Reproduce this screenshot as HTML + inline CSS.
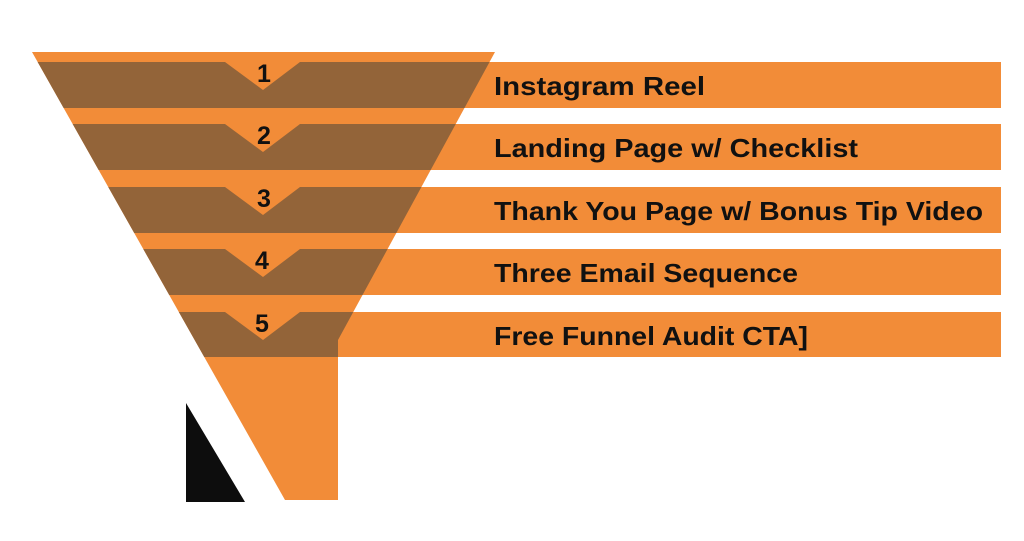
<!DOCTYPE html>
<html><head><meta charset="utf-8"><style>
html,body{margin:0;padding:0;background:#fff;}
svg{display:block;}
text{font-family:"Liberation Sans",sans-serif;font-weight:bold;fill:#111;}
</style></head><body>
<svg width="1024" height="541" viewBox="0 0 1024 541">
<defs>
<clipPath id="f"><polygon points="32,52 495,52 338,340 338,500 285,500"/></clipPath>
</defs>
<g fill="#F28C38">
<rect x="330" y="62" width="671" height="46"/>
<rect x="330" y="124" width="671" height="46"/>
<rect x="330" y="187" width="671" height="46"/>
<rect x="330" y="249" width="671" height="46"/>
<rect x="330" y="312" width="671" height="45"/>
<polygon points="32,52 495,52 338,340 338,500 285,500"/>
</g>
<g fill="#936439" clip-path="url(#f)">
<polygon points="0,62 225,62 263,90 300,62 600,62 600,108 0,108"/>
<polygon points="0,124 225,124 263,152 300,124 600,124 600,170 0,170"/>
<polygon points="0,187 225,187 263,215 300,187 600,187 600,233 0,233"/>
<polygon points="0,249 225,249 263,277 300,249 600,249 600,295 0,295"/>
<polygon points="0,312 225,312 263,340 300,312 600,312 600,357 0,357"/>
</g>
<polygon points="186,403 186,502 245,502" fill="#0d0d0d"/>
<g font-size="25" text-anchor="middle">
<text x="264" y="82">1</text>
<text x="264" y="144">2</text>
<text x="264" y="207">3</text>
<text x="262" y="269">4</text>
<text x="262" y="332">5</text>
</g>
<g font-size="26">
<text x="494" y="95" textLength="211" lengthAdjust="spacingAndGlyphs">Instagram Reel</text>
<text x="494" y="157" textLength="364" lengthAdjust="spacingAndGlyphs">Landing Page w/ Checklist</text>
<text x="494" y="220" textLength="489" lengthAdjust="spacingAndGlyphs">Thank You Page w/ Bonus Tip Video</text>
<text x="494" y="282" textLength="304" lengthAdjust="spacingAndGlyphs">Three Email Sequence</text>
<text x="494" y="345" textLength="314" lengthAdjust="spacingAndGlyphs">Free Funnel Audit CTA]</text>
</g>
</svg>
</body></html>
